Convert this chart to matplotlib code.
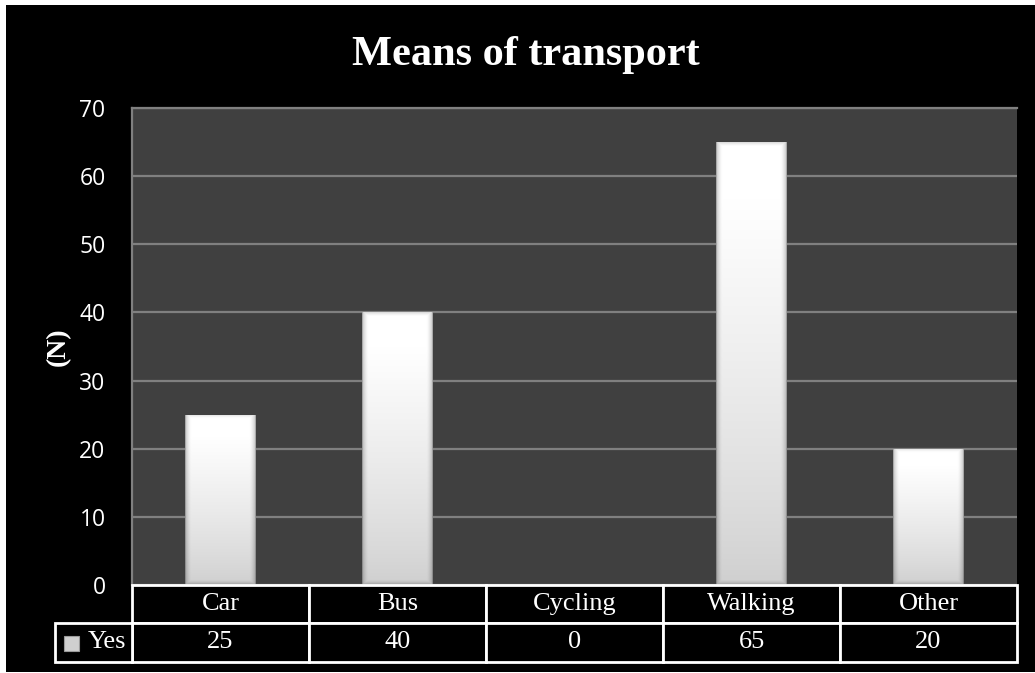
import numpy as np
import matplotlib
matplotlib.use("Agg")
import matplotlib.pyplot as plt
from matplotlib.patches import Rectangle

categories = ["Car", "Bus", "Cycling", "Walking", "Other"]
values = [25, 40, 0, 65, 20]
series_name = "Yes"
yticks = [0, 10, 20, 30, 40, 50, 60, 70]
title = "Means of transport"
ylabel = "(N)"

W, H = 1035, 673
fig = plt.figure(figsize=(W / 100, H / 100), dpi=100, facecolor="white")
fig.add_artist(Rectangle((6 / W, 1 / H), 1 - 6 / W, (H - 6) / H,
                         transform=fig.transFigure, facecolor="black",
                         edgecolor="none", zorder=0))

ax_l, ax_r, ax_t, ax_b = 132, 1017, 108, 585
axh = ax_b - ax_t
axw = ax_r - ax_l
ax = fig.add_axes([ax_l / W, (H - ax_b) / H, axw / W, axh / H])
ax.set_facecolor("#404040")
ax.set_xlim(-0.5, len(categories) - 0.5)
ax.set_ylim(0, 70)
ax.set_yticks(yticks)
ax.set_xticks([])
ax.grid(axis="y", color="#808080", linewidth=1.6)
ax.set_axisbelow(True)
for s in ["right", "bottom"]:
    ax.spines[s].set_visible(False)
for s in ["left", "top"]:
    ax.spines[s].set_color("#808080")
    ax.spines[s].set_linewidth(1.6)
ax.tick_params(axis="y", length=0, pad=19, labelsize=16.5, labelcolor="white")
for lab in ax.get_yticklabels():
    lab.set_fontfamily("Open Sans")

bar_w = 0.4
bars = ax.bar(np.arange(len(categories)), values, width=bar_w,
              color="#e8e8e8", edgecolor="none", zorder=3)


def bar_gradient(nx, ny):
    yy = np.linspace(1.0, 0.0, ny)[:, None]  # 1 at top
    base = 0.81 + 0.19 * np.clip(yy * 1.15, 0, 1) ** 0.8
    img = np.repeat(base, nx, axis=1)
    xi = np.arange(nx)[None, :]
    yi = np.arange(ny)[:, None]
    ex = np.minimum(xi, nx - 1 - xi).astype(float)
    side = np.clip(1 - ex / 6.0, 0, 1) ** 1.6
    bot = np.clip(1 - (ny - 1 - yi) / 5.0, 0, 1) ** 1.6
    top = np.clip(1 - yi / 4.0, 0, 1) ** 1.6
    shade = np.maximum(np.maximum(side, bot), 0.6 * top)
    img = img * (1 - 0.22 * shade)
    img[:, :1] *= 0.85
    img[:, -1:] *= 0.85
    return np.dstack([img, img, img])


px_per_unit = axh / 70.0
for b, v in zip(bars, values):
    if v <= 0:
        continue
    x0 = b.get_x()
    ny = max(int(round(v * px_per_unit)), 2)
    im = ax.imshow(bar_gradient(70, ny), extent=(x0, x0 + bar_w, 0, v),
                   aspect="auto", interpolation="bilinear", zorder=4,
                   origin="upper")
    im.set_clip_path(b)

ax.set_xlim(-0.5, len(categories) - 0.5)
ax.set_ylim(0, 70)

# data table under the axes (x in data units, y in axes units)
tr = ax.get_xaxis_transform()
r1 = 38 / axh
r2 = 39 / axh
lw = 2.0
tfont = dict(color="white", fontsize=19, fontfamily="Liberation Serif",
             ha="center", va="center", transform=tr, clip_on=False)
for j, (c, v) in enumerate(zip(categories, values)):
    ax.add_patch(Rectangle((j - 0.5, -r1), 1, r1, transform=tr, facecolor="black",
                           edgecolor="white", linewidth=lw, clip_on=False, zorder=5))
    ax.add_patch(Rectangle((j - 0.5, -r1 - r2), 1, r2, transform=tr, facecolor="black",
                           edgecolor="white", linewidth=lw, clip_on=False, zorder=5))
    ax.text(j, -r1 / 2, c, zorder=6, **tfont)
    ax.text(j, -r1 - r2 / 2, str(v), zorder=6, **tfont)

ta = ax.transAxes
lx0 = (55 - ax_l) / axw
ax.add_patch(Rectangle((lx0, -r1 - r2), -lx0, r2, transform=ta, facecolor="black",
                       edgecolor="white", linewidth=lw, clip_on=False, zorder=5))
ax.text((126 - ax_l) / axw, -r1 - r2 / 2, series_name, color="white", fontsize=19,
        fontfamily="Liberation Serif", ha="right", va="center", transform=ta,
        clip_on=False, zorder=6)
ax.add_patch(Rectangle(((64 - ax_l) / axw, -(651 - ax_b) / axh), 15 / axw, 15 / axh,
                       transform=ta, facecolor="#cfcfcf", edgecolor="#9a9a9a",
                       linewidth=0.8, clip_on=False, zorder=7))

fig.text(526 / W, (H - 65) / H, title, ha="center", va="baseline",
         fontsize=30.5, fontweight="bold", color="white",
         fontfamily="Liberation Serif")
fig.text(58 / W, (H - 347) / H, ylabel, ha="center", va="center", rotation=90,
         fontsize=20, fontweight="bold", color="white",
         fontfamily="Liberation Serif")

fig.savefig("out.png", dpi=100, facecolor=fig.get_facecolor())
